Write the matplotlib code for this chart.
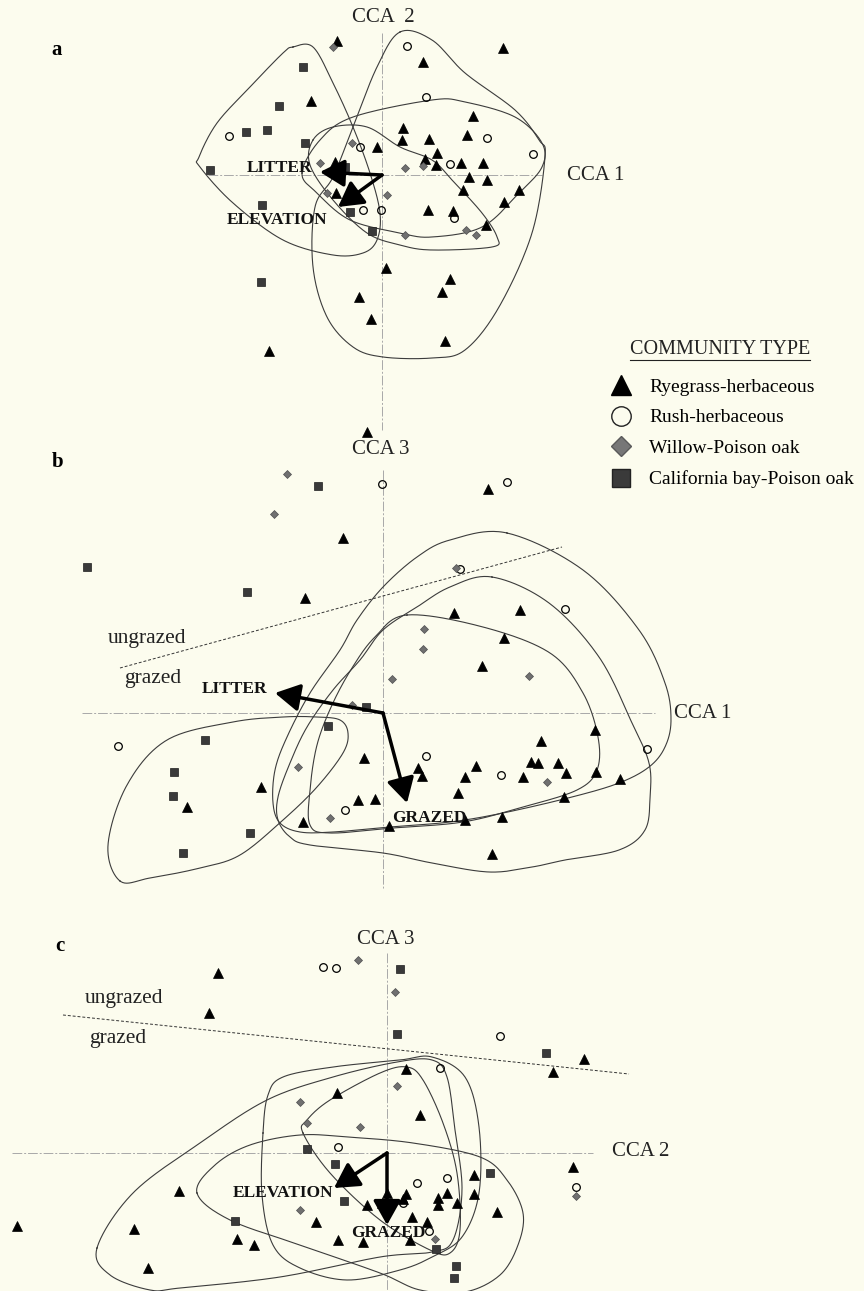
import numpy as np
import matplotlib
matplotlib.use("Agg")
import matplotlib.pyplot as plt
from matplotlib.lines import Line2D

plt.rcParams["font.family"] = ["Liberation Serif", "DejaVu Serif"]

W, H = 864, 1291
BG = "#fcfcee"

# ---------------- panel a : CCA 1 (x) vs CCA 2 (y) ----------------
a_ryegrass = [(-0.45, 1.34), (0.41, 1.13), (-0.71, 0.74), (-0.05, 0.28), (0.21, 0.47), (0.20, 0.35),
              (0.47, 0.36), (0.43, 0.16), (0.55, 0.22), (0.54, 0.10), (-0.47, 0.13), (-0.46, -0.18),
              (0.46, -0.35), (0.04, -0.93), (-0.23, -1.22), (-0.11, -1.44), (-1.13, -1.76), (1.21, 1.27),
              (0.91, 0.59), (0.85, 0.40), (0.79, 0.12), (1.01, 0.12), (0.87, -0.02), (1.05, -0.05),
              (0.81, -0.15), (1.37, -0.15), (1.22, -0.27), (0.71, -0.36), (1.04, -0.50), (0.68, -1.04),
              (0.60, -1.17), (0.63, -1.66)]
a_rush = [(-1.53, 0.39), (-0.22, 0.28), (0.25, 1.29), (0.44, 0.78), (-0.19, -0.35), (-0.01, -0.35),
          (1.05, 0.37), (1.51, 0.21), (0.68, 0.11), (0.72, -0.43)]
a_willow = [(-0.49, 1.28), (-0.30, 0.32), (-0.62, 0.12), (-0.55, -0.18), (0.05, -0.20), (0.23, 0.07),
            (0.23, -0.60), (0.41, 0.09), (0.84, -0.55), (0.94, -0.60)]
a_bay = [(-0.79, 1.08), (-1.03, 0.69), (-1.36, 0.43), (-1.15, 0.45), (-0.77, 0.32), (-1.72, 0.05),
         (-0.37, 0.08), (-1.20, -0.30), (-0.32, -0.37), (-0.10, -0.56), (-1.21, -1.07)]
a_hulls = [
    [(-0.89, 1.28), (-0.69, 1.28), (-0.49, 0.92), (-0.29, 0.48), (-0.12, 0.02), (-0.02, -0.38),
     (-0.05, -0.65), (-0.19, -0.78), (-0.49, -0.80), (-0.99, -0.65), (-1.49, -0.28), (-1.82, 0.08),
     (-1.83, 0.18), (-1.65, 0.52), (-1.32, 0.88), (-0.99, 1.22)],
    [(0.18, 1.43), (0.50, 1.35), (0.83, 1.02), (1.33, 0.65), (1.57, 0.35), (1.63, 0.18), (1.50, -0.58),
     (1.17, -1.32), (0.83, -1.75), (0.50, -1.83), (0.01, -1.82), (-0.29, -1.72), (-0.55, -1.42),
     (-0.69, -0.92), (-0.67, -0.32), (-0.49, -0.02), (-0.29, 0.48), (-0.05, 1.08)],
    [(-0.80, 0.02), (-0.62, 0.35), (-0.29, 0.58), (0.50, 0.75), (0.83, 0.73), (1.33, 0.58), (1.60, 0.32),
     (1.60, 0.08), (1.37, -0.18), (1.00, -0.52), (0.50, -0.62), (0.18, -0.58), (-0.32, -0.45),
     (-0.65, -0.18)],
    [(-0.69, 0.35), (-0.49, 0.48), (-0.15, 0.48), (0.18, 0.28), (0.50, 0.15), (0.70, -0.05), (1.00, -0.38),
     (1.15, -0.62), (1.10, -0.72), (0.50, -0.75), (0.18, -0.70), (-0.15, -0.58), (-0.49, -0.25),
     (-0.72, 0.10)],
]
a_vectors = {"LITTER": (-0.62, 0.03), "ELEVATION": (-0.44, -0.32)}

# ---------------- panel b : CCA 1 (x) vs CCA 3 (y) ----------------
b_ryegrass = [(-0.16, 2.81), (-0.40, 1.75), (-0.78, 1.15), (-0.19, -0.45), (0.35, -0.55), (0.39, -0.63),
              (-1.22, -0.74), (-1.96, -0.94), (-0.25, -0.87), (-0.08, -0.86), (-0.80, -1.09), (0.06, -1.13),
              (1.05, 2.24), (0.71, 1.00), (1.37, 1.03), (1.21, 0.75), (0.99, 0.47), (2.12, -0.17),
              (1.58, -0.28), (0.93, -0.53), (0.82, -0.64), (0.75, -0.80), (1.48, -0.49), (1.55, -0.50),
              (1.75, -0.50), (1.83, -0.60), (1.40, -0.64), (2.13, -0.59), (2.37, -0.66), (1.81, -0.84),
              (0.82, -1.07), (1.19, -1.04), (1.09, -1.41)]
b_rush = [(-0.01, 2.29), (-2.65, -0.33), (0.43, -0.43), (-0.38, -0.97), (1.24, 2.31), (0.77, 1.44),
          (1.82, 1.04), (2.64, -0.36), (1.18, -0.62)]
b_willow = [(-0.96, 2.39), (-1.09, 1.99), (0.09, 0.34), (0.41, 0.84), (0.40, 0.64), (-0.85, -0.54),
            (-0.53, -1.05), (-0.31, 0.08), (0.73, 1.45), (1.46, 0.37), (1.64, -0.69)]
b_bay = [(-0.65, 2.27), (-2.96, 1.46), (-1.36, 1.21), (-0.17, 0.06), (-0.55, -0.13), (-1.78, -0.27),
         (-2.09, -0.59), (-2.10, -0.83), (-1.33, -1.20), (-2.00, -1.40)]
b_hulls = [
    [(1.24, 1.80), (2.00, 1.43), (2.56, 0.83), (2.82, 0.30), (2.88, -0.07), (2.82, -0.34), (2.66, -0.54),
     (2.36, -0.70), (1.89, -0.84), (1.20, -1.00), (0.67, -1.09), (0.07, -1.14), (-0.50, -1.19),
     (-0.83, -1.19), (-1.03, -1.10), (-1.10, -0.90), (-1.08, -0.57), (-0.96, -0.24), (-0.73, 0.20),
     (-0.43, 0.63), (-0.26, 0.93), (0.00, 1.26), (0.34, 1.56), (0.67, 1.73)],
    [(1.09, 1.36), (1.66, 1.10), (2.16, 0.56), (2.49, -0.10), (2.66, -0.50), (2.67, -0.84), (2.62, -1.17),
     (2.36, -1.37), (1.82, -1.47), (1.49, -1.54), (1.06, -1.59), (0.49, -1.50), (0.00, -1.40),
     (-0.73, -1.32), (-0.93, -1.24), (-1.05, -1.07), (-1.05, -0.84), (-0.93, -0.50), (-0.76, -0.14),
     (-0.50, 0.23), (-0.23, 0.53), (0.00, 0.83), (0.34, 1.06), (0.67, 1.26)],
    [(0.24, 0.98), (1.00, 0.86), (1.67, 0.60), (2.00, 0.20), (2.15, -0.24), (2.14, -0.57), (1.94, -0.77),
     (1.40, -0.94), (0.80, -1.09), (0.10, -1.15), (-0.53, -1.20), (-0.73, -1.12), (-0.73, -0.77),
     (-0.66, -0.32), (-0.51, 0.08), (-0.31, 0.45), (-0.08, 0.76)],
    [(-2.63, -1.68), (-2.33, -1.65), (-1.83, -1.55), (-1.43, -1.42), (-1.00, -1.07), (-0.66, -0.74),
     (-0.40, -0.40), (-0.35, -0.20), (-0.43, -0.07), (-0.66, -0.04), (-1.00, -0.04), (-1.50, -0.09),
     (-2.16, -0.27), (-2.56, -0.72), (-2.75, -1.32)],
]
b_vectors = {"LITTER": (-1.08, 0.20), "GRAZED": (0.24, -0.90)}
b_divider = [(-2.63, 0.45), (1.79, 1.66)]

# ---------------- panel c : CCA 2 (x) vs CCA 3 (y) ----------------
c_ryegrass = [(-1.69, 1.80), (-1.78, 1.40), (0.19, 0.84), (-0.50, 0.60), (0.33, 0.38), (-2.08, -0.38),
              (-3.70, -0.73), (-2.53, -0.76), (-2.39, -1.15), (-1.50, -0.86), (-1.33, -0.92), (-0.71, -0.69),
              (-0.49, -0.87), (-0.24, -0.89), (1.66, 0.81), (1.97, 0.94), (1.86, -0.14), (-0.20, -0.52),
              (-0.05, -0.50), (0.00, -0.40), (0.19, -0.41), (0.16, -0.46), (0.25, -0.64), (0.40, -0.69),
              (0.23, -0.87), (0.51, -0.45), (0.51, -0.52), (0.60, -0.40), (0.70, -0.50), (0.87, -0.22),
              (0.87, -0.41), (1.10, -0.59)]
c_rush = [(-0.64, 1.86), (-0.51, 1.85), (1.13, 1.17), (0.53, 0.85), (-0.49, 0.06), (0.30, -0.30),
          (0.60, -0.25), (0.16, -0.50), (0.42, -0.78), (1.89, -0.34)]
c_willow = [(-0.29, 1.93), (0.08, 1.61), (0.10, 0.67), (-0.87, 0.51), (-0.80, 0.30), (-0.27, 0.26),
            (-0.87, -0.57), (0.48, -0.86), (1.89, -0.43)]
c_bay = [(0.13, 1.84), (0.10, 1.19), (1.59, 1.00), (-0.80, 0.04), (-0.52, -0.11), (-0.43, -0.48),
         (-1.52, -0.68), (1.03, -0.20), (0.49, -0.96), (0.69, -1.13), (0.67, -1.25)]
c_hulls = [
    [(-2.90, -0.95), (-2.77, -1.22), (-2.37, -1.37), (-2.07, -1.35), (-1.07, -1.24), (-0.07, -1.04),
     (0.45, -0.99), (0.66, -0.87), (0.75, -0.37), (0.68, 0.23), (0.60, 0.76), (0.45, 0.93), (0.10, 0.91),
     (-0.54, 0.76), (-1.20, 0.53), (-1.87, 0.10), (-2.54, -0.40)],
    [(-1.90, -0.40), (-1.72, -0.12), (-1.37, 0.08), (-0.87, 0.18), (-0.40, 0.16), (0.26, 0.10), (0.93, -0.04),
     (1.20, -0.27), (1.36, -0.60), (1.31, -0.92), (1.13, -1.22), (0.78, -1.39), (0.33, -1.37), (-0.07, -1.20),
     (-0.87, -0.92), (-1.57, -0.67)],
    [(-1.24, 0.20), (-1.19, 0.58), (-1.04, 0.76), (-0.54, 0.86), (0.13, 0.93), (0.45, 0.96), (0.78, 0.76),
     (0.92, 0.26), (0.92, -0.40), (0.75, -0.84), (0.45, -1.04), (0.13, -1.17), (-0.40, -1.27),
     (-0.87, -1.15), (-1.14, -0.92), (-1.25, -0.42)],
    [(-0.84, 0.20), (-0.57, -0.20), (-0.07, -0.67), (0.43, -0.97), (0.63, -1.00), (0.73, -0.77),
     (0.70, -0.20), (0.56, 0.30), (0.36, 0.73), (0.20, 0.86), (-0.07, 0.80), (-0.57, 0.53), (-0.80, 0.33)],
]
c_vectors = {"ELEVATION": (-0.53, -0.35), "GRAZED": (0.00, -0.72)}
c_divider = [(-3.24, 1.38), (2.42, 0.79)]

community_types = ["Ryegrass-herbaceous", "Rush-herbaceous", "Willow-Poison oak", "California bay-Poison oak"]

# marker styles for the four community types
styles = [
    dict(marker="^", ms=6.5, mfc="black", mec="black", mew=0.5),
    dict(marker="o", ms=5.5, mfc="none", mec="black", mew=0.9),
    dict(marker="D", ms=4.5, mfc="#707070", mec="#505050", mew=0.5),
    dict(marker="s", ms=5.6, mfc="#3a3a3a", mec="#1e1e1e", mew=0.5),
]


def smooth_closed(pts, n=24):
    # periodic Catmull-Rom spline through the hull outline points
    p = np.asarray(pts, dtype=float)
    k = len(p)
    out = []
    t = np.linspace(0, 1, n, endpoint=False)[:, None]
    for i in range(k):
        p0, p1, p2, p3 = p[(i - 1) % k], p[i], p[(i + 1) % k], p[(i + 2) % k]
        seg = 0.5 * (2 * p1 + (-p0 + p2) * t + (2 * p0 - 5 * p1 + 4 * p2 - p3) * t ** 2
                     + (-p0 + 3 * p1 - 3 * p2 + p3) * t ** 3)
        out.append(seg)
    out.append(p[:1])
    out = np.vstack(out)
    return out[:, 0], out[:, 1]


def panel_axes(fig, ox, oy):
    # transparent axes over the whole figure, 100 px per CCA unit, origin at pixel (ox, oy)
    ax = fig.add_axes([0, 0, 1, 1])
    ax.set_xlim(-ox / 100, (W - ox) / 100)
    ax.set_ylim((oy - H) / 100, oy / 100)
    ax.axis("off")
    ax.patch.set_alpha(0)
    return ax


def draw_panel(ax, groups, hulls, vectors, hline, vline):
    ax.plot(hline, [0, 0], color="#a8a8a8", lw=0.7, ls=(0, (10, 2, 2, 2)), zorder=1)
    ax.plot([0, 0], vline, color="#a8a8a8", lw=0.7, ls=(0, (10, 2, 2, 2)), zorder=1)
    for hull in hulls:
        hx, hy = smooth_closed(hull)
        ax.plot(hx, hy, color="#3c3c3c", lw=0.8, zorder=2)
    for pts, st in zip(groups, styles):
        xs, ys = zip(*pts)
        ax.plot(xs, ys, ls="none", zorder=3, **st)
    for name, (vx, vy) in vectors.items():
        ax.annotate("", xy=(vx, vy), xytext=(0, 0),
                    arrowprops=dict(arrowstyle="-|>,head_length=0.5,head_width=0.28", lw=2.5,
                                    color="black", mutation_scale=30, shrinkA=0, shrinkB=0), zorder=4)


fig = plt.figure(figsize=(W / 100, H / 100), dpi=100)
fig.patch.set_facecolor(BG)

lab_kw = dict(fontsize=15, color="#222222")
zone_kw = dict(fontsize=15.5, color="#222222")
vec_kw = dict(fontsize=12.5, fontweight="bold", color="#111111", zorder=5)

# panel a
ax = panel_axes(fig, 382, 175)
draw_panel(ax, [a_ryegrass, a_rush, a_willow, a_bay], a_hulls, a_vectors, [-1.74, 1.60], [1.42, -2.55])
ax.text(-3.25, 1.25, "a", fontsize=15, fontweight="bold", ha="center", va="center")
ax.text(0.01, 1.57, "CCA  2", ha="center", va="center", **lab_kw)
ax.text(1.85, 0.0, "CCA 1", ha="left", va="center", **lab_kw)
ax.text(-0.70, 0.07, "LITTER", ha="right", va="center", **vec_kw)
ax.text(-1.05, -0.45, "ELEVATION", ha="center", va="center", **vec_kw)

# panel b
ax = panel_axes(fig, 383, 713)
draw_panel(ax, [b_ryegrass, b_rush, b_willow, b_bay], b_hulls, b_vectors, [-3.01, 2.72], [2.43, -1.77])
(x0, y0), (x1, y1) = b_divider
ax.plot([x0, x1], [y0, y1], color="#333333", lw=0.7, ls=(0, (3, 2)), zorder=1)
ax.text(-3.25, 2.51, "b", fontsize=15, fontweight="bold", ha="center", va="center")
ax.text(-0.02, 2.64, "CCA 3", ha="center", va="center", **lab_kw)
ax.text(2.91, -0.01, "CCA 1", ha="left", va="center", **lab_kw)
ax.text(-2.36, 0.74, "ungrazed", ha="center", va="center", **zone_kw)
ax.text(-2.30, 0.34, "grazed", ha="center", va="center", **zone_kw)
ax.text(-1.48, 0.24, "LITTER", ha="center", va="center", **vec_kw)
ax.text(0.46, -1.05, "GRAZED", ha="center", va="center", **vec_kw)

# panel c
ax = panel_axes(fig, 387, 1153)
draw_panel(ax, [c_ryegrass, c_rush, c_willow, c_bay], c_hulls, c_vectors, [-3.75, 2.06], [2.00, -1.38])
(x0, y0), (x1, y1) = c_divider
ax.plot([x0, x1], [y0, y1], color="#333333", lw=0.7, ls=(0, (3, 2)), zorder=1)
ax.text(-3.27, 2.07, "c", fontsize=15, fontweight="bold", ha="center", va="center")
ax.text(-0.01, 2.13, "CCA 3", ha="center", va="center", **lab_kw)
ax.text(2.25, 0.02, "CCA 2", ha="left", va="center", **lab_kw)
ax.text(-2.63, 1.55, "ungrazed", ha="center", va="center", **zone_kw)
ax.text(-2.69, 1.14, "grazed", ha="center", va="center", **zone_kw)
ax.text(-1.04, -0.40, "ELEVATION", ha="center", va="center", **vec_kw)
ax.text(0.01, -0.80, "GRAZED", ha="center", va="center", **vec_kw)

# legend
leg_styles = [
    dict(marker="^", ms=14, mfc="black", mec="black"),
    dict(marker="o", ms=14, mfc="none", mec="#222222", mew=1.0),
    dict(marker="D", ms=10, mfc="#777777", mec="#5a5a5a"),
    dict(marker="s", ms=13, mfc="#3a3a3a", mec="#222222"),
]
handles = [Line2D([], [], ls="none", label=name, **st) for name, st in zip(community_types, leg_styles)]
fig.legend(handles=handles, loc="upper left", bbox_to_anchor=(612 / W, 1 - 378 / H),
           frameon=False, fontsize=14, handlelength=0.93, handletextpad=0.97,
           labelspacing=0.68, borderpad=0, borderaxespad=0)
fig.text(720 / W, 1 - 350 / H, "COMMUNITY TYPE", ha="center", va="center", fontsize=14.5, color="#222222")
fig.add_artist(Line2D([630 / W, 810 / W], [1 - 360 / H, 1 - 360 / H], color="#222222", lw=0.8))

fig.savefig("out.png", dpi=100, facecolor=BG)
